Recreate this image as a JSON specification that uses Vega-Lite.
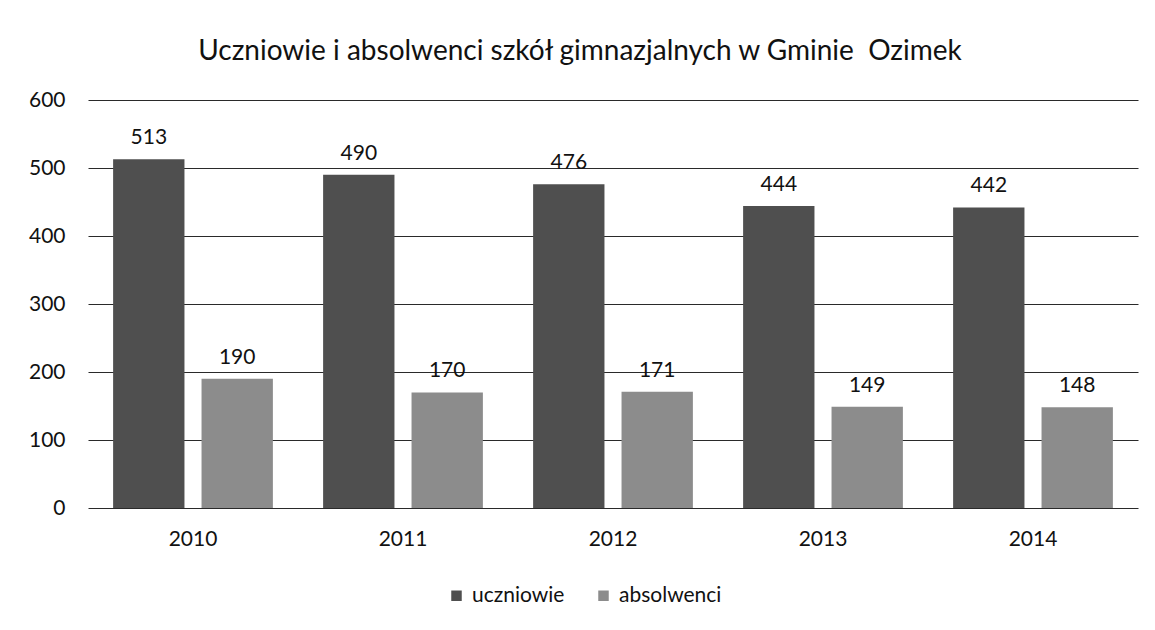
{
  "$schema": "https://vega.github.io/schema/vega-lite/v6.json",
  "autosize": "none",
  "width": 1050,
  "height": 408,
  "padding": {"left": 88, "top": 100, "right": 17, "bottom": 122},
  "background": "white",
  "config": {"view": {"stroke": null}},
  "title": {
    "text": "Uczniowie i absolwenci szkół gimnazjalnych w Gminie\u00a0 Ozimek",
    "font": "Lato",
    "fontSize": 28,
    "fontWeight": "normal",
    "color": "#111",
    "anchor": "middle",
    "dx": -33,
    "offset": 23
  },
  "data": {
    "values": [
      {"rok": "2010", "seria": "uczniowie", "wartosc": 513},
      {"rok": "2010", "seria": "absolwenci", "wartosc": 190},
      {"rok": "2011", "seria": "uczniowie", "wartosc": 490},
      {"rok": "2011", "seria": "absolwenci", "wartosc": 170},
      {"rok": "2012", "seria": "uczniowie", "wartosc": 476},
      {"rok": "2012", "seria": "absolwenci", "wartosc": 171},
      {"rok": "2013", "seria": "uczniowie", "wartosc": 444},
      {"rok": "2013", "seria": "absolwenci", "wartosc": 149},
      {"rok": "2014", "seria": "uczniowie", "wartosc": 442},
      {"rok": "2014", "seria": "absolwenci", "wartosc": 148}
    ]
  },
  "encoding": {
    "x": {
      "field": "rok", "type": "nominal",
      "scale": {"paddingInner": 0, "paddingOuter": 0},
      "axis": {"title": null, "labelAngle": 0, "domain": false, "ticks": false,
               "labelFont": "Lato", "labelFontSize": 21, "labelColor": "#111", "labelPadding": 20}
    },
    "xOffset": {
      "field": "seria", "type": "nominal",
      "sort": ["uczniowie", "absolwenci"],
      "scale": {"paddingInner": 0.193, "paddingOuter": 0.284}
    },
    "y": {
      "field": "wartosc", "type": "quantitative",
      "scale": {"domain": [0, 600]},
      "axis": {"title": null, "values": [0, 100, 200, 300, 400, 500, 600], "domain": false, "ticks": false,
               "labelFont": "Lato", "labelFontSize": 21, "labelColor": "#111", "labelPadding": 23,
               "gridColor": "#2a2a2a", "gridWidth": 1.2, "gridOpacity": 1}
    }
  },
  "layer": [
    {
      "mark": {"type": "bar"},
      "encoding": {
        "color": {
          "field": "seria", "type": "nominal",
          "sort": ["uczniowie", "absolwenci"],
          "scale": {"domain": ["uczniowie", "absolwenci"], "range": ["#4f4f4f", "#8c8c8c"]},
          "legend": {
            "title": null, "orient": "none", "direction": "horizontal",
            "legendX": 358, "legendY": 485,
            "symbolType": "square", "symbolSize": 110, "symbolStrokeWidth": 0,
            "labelFont": "Lato", "labelFontSize": 21, "labelColor": "#111",
            "columnPadding": 28, "labelOffset": 5
          }
        }
      }
    },
    {
      "mark": {"type": "text", "baseline": "bottom", "dy": -11, "font": "Lato", "fontSize": 21, "color": "#111"},
      "encoding": {"text": {"field": "wartosc", "type": "quantitative"}}
    }
  ]
}
